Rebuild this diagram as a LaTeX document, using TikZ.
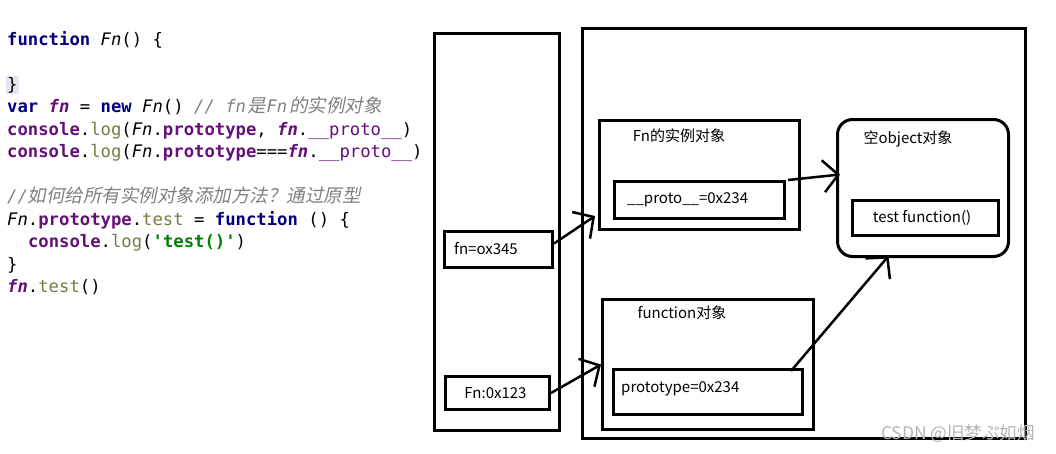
\documentclass[tikz,border=0pt]{standalone}
\usepackage{fontspec}
\usetikzlibrary{arrows.meta}
\newfontfamily\codefont{DejaVu Sans Mono}
\newfontfamily\cjkit[FakeSlant=0.2]{Noto Sans CJK SC}
\newfontfamily\lblfont{Noto Sans CJK SC}
\definecolor{kwc}{HTML}{000080}
\definecolor{puc}{HTML}{660E7A}
\definecolor{mec}{HTML}{7A7A43}
\definecolor{cmc}{HTML}{808080}
\definecolor{stc}{HTML}{008000}
\definecolor{hlc}{HTML}{E4E4F2}
\definecolor{wmc}{HTML}{B4B4B4}
\newcommand\jkw[1]{{\color{kwc}\bfseries #1}}
\newcommand\jpu[1]{{\color{puc}\bfseries #1}}
\newcommand\jpn[1]{{\color{puc}#1}}
\newcommand\jpi[1]{{\color{puc}\bfseries\itshape #1}}
\newcommand\jme[1]{{\color{mec}#1}}
\newcommand\jcm[1]{{\color{cmc}\itshape #1}}
\newcommand\jcj[1]{{\cjkit\fontsize{18.5}{20}\selectfont\color{cmc}#1}}
\newcommand\jst[1]{{\color{stc}\bfseries #1}}
\newcommand\jfi[1]{{\itshape #1}}
\tikzset{
  code/.style={anchor=base west, inner sep=0pt, font=\codefont\fontsize{17.25}{20}\selectfont},
  box/.style={draw, line width=3pt, inner sep=0pt, anchor=north west},
  lbl/.style={font=\lblfont\fontsize{15}{18}\selectfont, inner sep=0pt},
  arr/.style={line width=2.5pt, -{Straight Barb[length=15pt,width=32pt]}},
}
\begin{document}
\begin{tikzpicture}[x=1pt,y=-1pt]
\useasboundingbox (0,0) rectangle (1056,453);
% code
\node[code] (c1) at (7,45) {\jkw{function} \jfi{Fn}() \{};
\node[code, fill=hlc, inner sep=1pt] (c3) at (6,90) {\}};
\node[code] (c4) at (7,112.5) {\jkw{var} \jpi{fn} = \jkw{new} \jfi{Fn}() \jcm{// fn}\hspace{1pt}\jcj{是}\hspace{1pt}\jcm{Fn}\hspace{2pt}\jcj{的实例对象}};
\node[code] (c5) at (7,135) {\jpu{console}.\jme{log}(\jfi{Fn}.\jpu{prototype}, \jpi{fn}.\jpn{\_\_proto\_\_})};
\node[code] (c6) at (7,157.5) {\jpu{console}.\jme{log}(\jfi{Fn}.\jpu{prototype}===\jpi{fn}.\jpn{\_\_proto\_\_})};
\node[code] (c7) at (7,202.5) {\jcm{//}\jcj{如何给所有实例对象添加方法？通过原型}};
\node[code] (c8) at (7,225) {\jfi{Fn}.\jpu{prototype}.\jme{test} = \jkw{function} () \{};
\node[code] (c9) at (27.8,247.5) {\jpu{console}.\jme{log}(\jst{'test()'})};
\node[code] (c10) at (7,270) {\}};
\node[code] (c11) at (7,292.5) {\jpi{fn}.\jme{test}()};
% stack and heap
\node[box, minimum width=125, minimum height=397] (stack) at (433,32) {};
\node[box, minimum width=443, minimum height=410] (heap) at (581,27) {};
\node[box, minimum width=108, minimum height=36] (fnbox) at (443,230) {};
\node[lbl, anchor=west] (fnlbl) at (454,249) {fn=ox345};
\node[box, minimum width=104, minimum height=33] (fnc) at (444,375) {};
\node[lbl] (fnclbl) at (495.5,393) {Fn:0x123};
\node[box, minimum width=200, minimum height=109] (inst) at (598,119) {};
\node[lbl] (instlbl) at (679,136) {Fn的实例对象};
\node[box, minimum width=170, minimum height=37] (proto) at (613,180) {};
\node[lbl, anchor=west] (protolbl) at (627,200) {\_\_proto\_\_=0x234};
\node[box, rounded corners=15pt, minimum width=171, minimum height=137] (obj) at (836,118) {};
\node[lbl] (objlbl) at (908,139) {空object对象};
\node[box, minimum width=146, minimum height=35] (test) at (851,199) {};
\node[lbl] (testlbl) at (922,218) {test function()};
\node[box, minimum width=211, minimum height=130] (func) at (601,298) {};
\node[lbl] (funclbl) at (682,313) {function对象};
\node[box, minimum width=189, minimum height=45] (prot) at (612,368) {};
\node[lbl, anchor=west] (protlbl) at (621,389) {prototype=0x234};
% arrows
\draw[arr] ([yshift=6pt]fnbox.east) -- ([xshift=-3pt,yshift=15pt]inst.south west);
\draw[arr] (fnc.east) -- (func.west);
\draw[arr] ([xshift=2pt]proto.north east) -- ([xshift=4pt,yshift=13.5pt]obj.west);
\draw[arr] ([xshift=-13pt,yshift=-3pt]prot.north east) -- ([xshift=-34.5pt,yshift=2pt]obj.south);
% watermark
\node[lbl, text=wmc, font=\lblfont\fontsize{17.5}{20}\selectfont] (wm) at (958,434) {CSDN @旧梦ぷ如烟};
\end{tikzpicture}
\end{document}
